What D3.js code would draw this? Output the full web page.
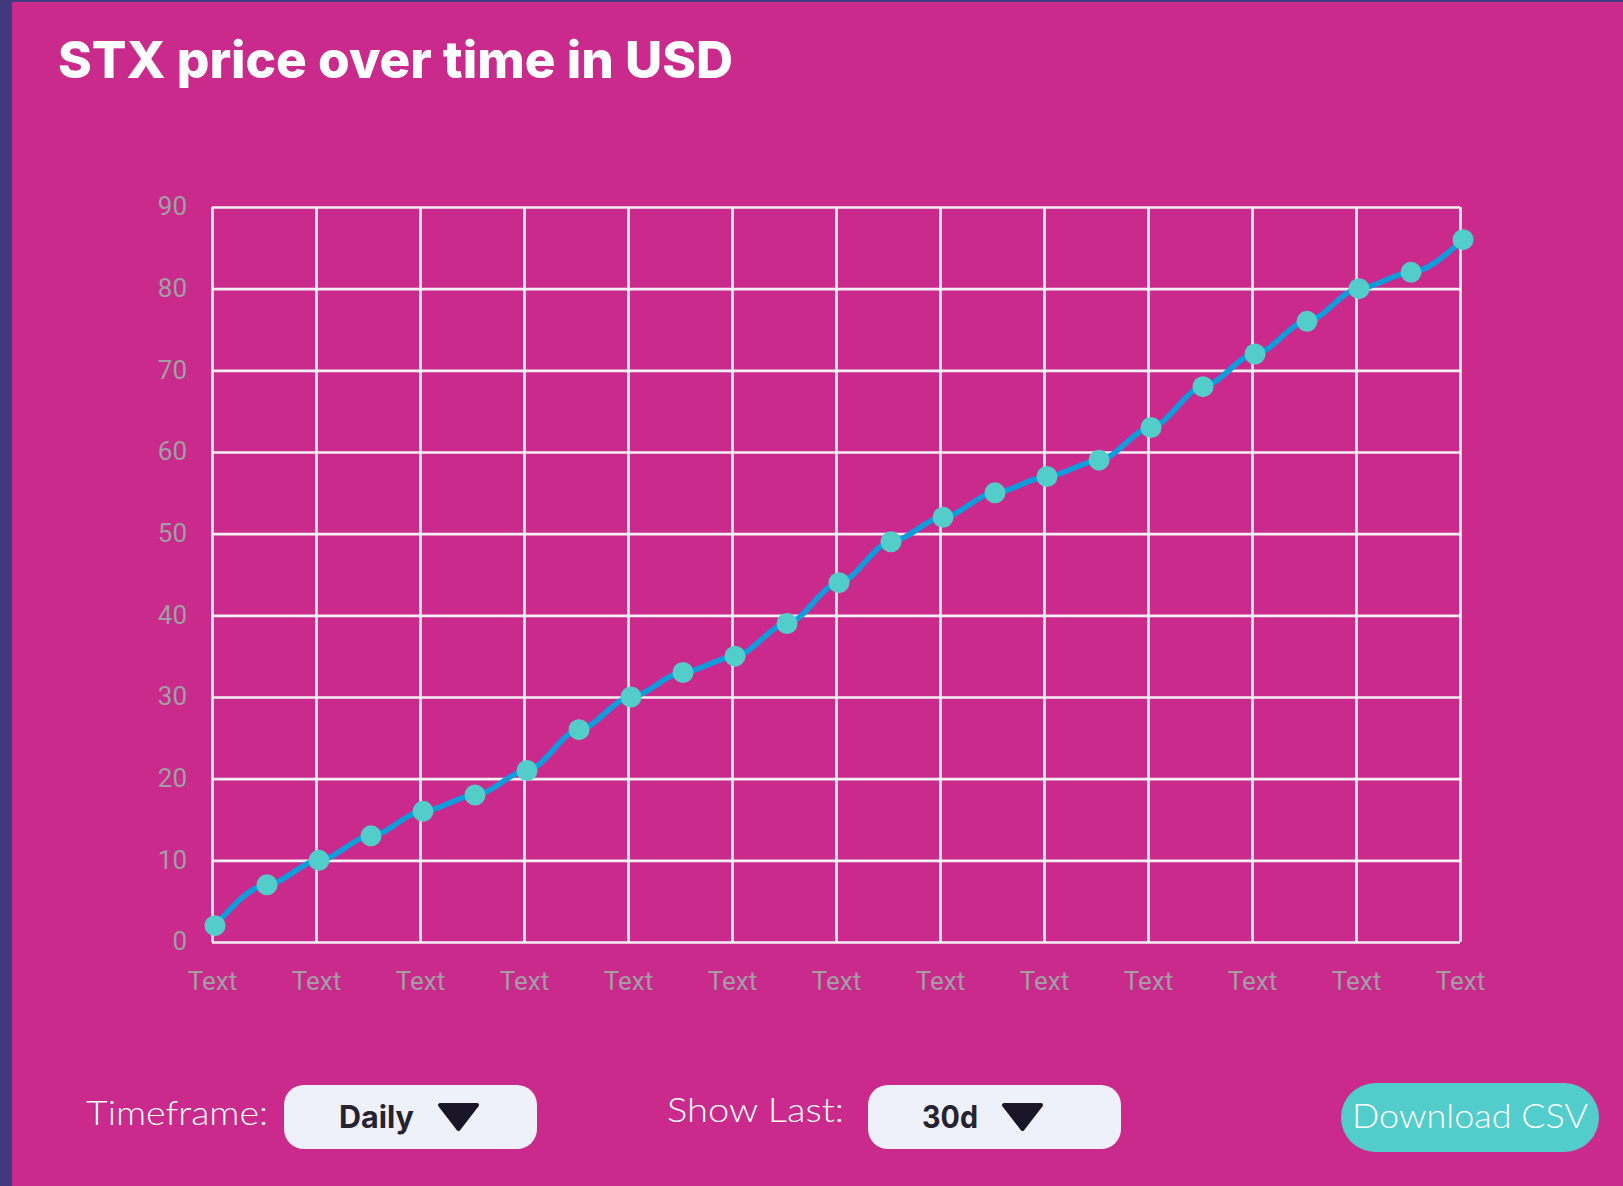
<!DOCTYPE html>
<html>
<head>
<meta charset="utf-8">
<script src="https://cdn.jsdelivr.net/npm/d3@7"></script>
<style>
  html, body { margin: 0; padding: 0; background: #c92a8b; }
  svg { display: block; }
</style>
</head>
<body>
<svg id="chart" width="1623" height="1186"></svg>
<script>
// ---- data ----
const title = "STX price over time in USD";
const prices = [2, 7, 10, 13, 16, 18, 21, 26, 30, 33, 35, 39, 44, 49, 52, 55, 57, 59, 63, 68, 72, 76, 80, 82, 86];
const xTickLabels = ["Text","Text","Text","Text","Text","Text","Text","Text","Text","Text","Text","Text","Text"];
const yTicks = [0, 10, 20, 30, 40, 50, 60, 70, 80, 90];
const timeframeOptions = ["Daily"];
const showLastOptions = ["30d"];

// ---- layout ----
const W = 1623, H = 1186;
const plot = { left: 212, right: 1460, top: 207, bottom: 942 };

const svg = d3.select("#chart");
svg.append("rect").attr("width", W).attr("height", H).attr("fill", "#c92a8b");
svg.append("rect").attr("x", 0).attr("y", 0).attr("width", 12).attr("height", H).attr("fill", "#3e3a7d");
svg.append("rect").attr("x", 0).attr("y", 0).attr("width", W).attr("height", 2).attr("fill", "#3e3a7d");

svg.append("text")
  .attr("x", 58).attr("y", 78)
  .attr("fill", "#ffffff")
  .style("font-family", "Inter, 'Open Sans', sans-serif")
  .style("font-weight", 800)
  .style("font-size", "51px")
  .attr("textLength", 675).attr("lengthAdjust", "spacingAndGlyphs")
  .text(title);

// scales
const y = d3.scaleLinear().domain([0, 90]).range([plot.bottom, plot.top]);
const xGrid = d3.scaleLinear().domain([0, xTickLabels.length - 1]).range([plot.left, plot.right]);
const xPt = d3.scaleLinear().domain([0, prices.length - 1]).range([plot.left + 3, plot.right + 3]);

const gridColor = "#f5f0f5";
const labelColor = "#a29ea3";

// y axis with grid
const gy = svg.append("g").attr("transform", `translate(${plot.left},0)`)
  .call(d3.axisLeft(y).tickValues(yTicks).tickSize(-(plot.right - plot.left)).tickPadding(25));
gy.select(".domain").remove();
gy.selectAll(".tick line").attr("stroke", gridColor).attr("stroke-width", 2.6);
gy.selectAll(".tick text")
  .attr("fill", labelColor)
  .attr("dy", "0.3em")
  .style("font-family", "Roboto, sans-serif")
  .style("font-size", "26px");

// x axis with grid
const gx = svg.append("g").attr("transform", `translate(0,${plot.bottom})`)
  .call(d3.axisBottom(xGrid).tickValues(d3.range(xTickLabels.length))
    .tickFormat(i => xTickLabels[i])
    .tickSize(-(plot.bottom - plot.top)).tickPadding(30));
gx.select(".domain").remove();
gx.selectAll(".tick line").attr("stroke", gridColor).attr("stroke-width", 2.6);
gx.selectAll(".tick text")
  .attr("fill", labelColor)
  .style("font-family", "Roboto, sans-serif")
  .style("font-size", "26px");

// soft curve: hermite spline with damped tangents
function softCurve(context) {
  let pts = [];
  return {
    areaStart() {}, areaEnd() {},
    lineStart() { pts = []; },
    point(px, py) { pts.push([+px, +py]); },
    lineEnd() {
      const n = pts.length;
      if (!n) return;
      const m = new Array(n);
      for (let i = 0; i < n; i++) {
        if (i === 0) m[i] = (pts[1][1] - pts[0][1]) / (pts[1][0] - pts[0][0]) * 1.4;
        else if (i === n - 1) m[i] = (pts[i][1] - pts[i-1][1]) / (pts[i][0] - pts[i-1][0]) * 1.4;
        else m[i] = 0.12 * (pts[i+1][1] - pts[i-1][1]) / (pts[i+1][0] - pts[i-1][0]);
      }
      context.moveTo(pts[0][0], pts[0][1]);
      for (let i = 0; i < n - 1; i++) {
        const h = pts[i+1][0] - pts[i][0];
        context.bezierCurveTo(
          pts[i][0] + h / 3, pts[i][1] + m[i] * h / 3,
          pts[i+1][0] - h / 3, pts[i+1][1] - m[i+1] * h / 3,
          pts[i+1][0], pts[i+1][1]);
      }
    }
  };
}

const line = d3.line().x((d, i) => xPt(i)).y(d => y(d)).curve(softCurve);
svg.append("path")
  .datum(prices)
  .attr("d", line)
  .attr("fill", "none")
  .attr("stroke", "#0f9cdc")
  .attr("stroke-width", 5.5)
  .attr("stroke-linecap", "round");

svg.append("g").selectAll("circle")
  .data(prices).join("circle")
  .attr("cx", (d, i) => xPt(i))
  .attr("cy", d => y(d))
  .attr("r", 10.5)
  .attr("fill", "#52cdc9");

// ---- controls ----
const lightFont = "Lato, 'Open Sans', sans-serif";
const boldFont = "Inter, 'Open Sans', sans-serif";

function dropdown(labelText, labelX, labelY, labelLen, boxX, value, valueX, valueLen, triX) {
  svg.append("text").attr("x", labelX).attr("y", labelY)
    .attr("fill", "#ffffff")
    .style("font-family", lightFont).style("font-weight", 300).style("font-size", "33px")
    .attr("textLength", labelLen).attr("lengthAdjust", "spacingAndGlyphs")
    .text(labelText);
  svg.append("rect").attr("x", boxX).attr("y", 1085).attr("width", 253).attr("height", 64)
    .attr("rx", 20).attr("fill", "#eef1f9");
  svg.append("text").attr("x", valueX).attr("y", 1128)
    .attr("fill", "#26222f")
    .style("font-family", boldFont).style("font-weight", 700).style("font-size", "31px")
    .attr("textLength", valueLen).attr("lengthAdjust", "spacingAndGlyphs")
    .text(value);
  const t = [[triX + 2, 1105], [triX + 39, 1105], [triX + 20.5, 1129]];
  svg.append("path").attr("d", d3.line()(t) + "Z")
    .attr("fill", "#1b1528").attr("stroke", "#1b1528")
    .attr("stroke-width", 4).attr("stroke-linejoin", "round");
}
dropdown("Timeframe:", 86, 1125, 182, 284, timeframeOptions[0], 339, 75, 438);
dropdown("Show Last:", 667, 1122, 177, 868, showLastOptions[0], 922, 56, 1002);

svg.append("rect").attr("x", 1341).attr("y", 1083).attr("width", 258).attr("height", 69)
  .attr("rx", 34.5).attr("fill", "#52cdcb");
svg.append("text").attr("x", 1352).attr("y", 1128)
  .attr("fill", "#ffffff")
  .style("font-family", lightFont).style("font-weight", 300).style("font-size", "34px")
  .attr("textLength", 236).attr("lengthAdjust", "spacingAndGlyphs")
  .text("Download CSV");
</script>
</body>
</html>
